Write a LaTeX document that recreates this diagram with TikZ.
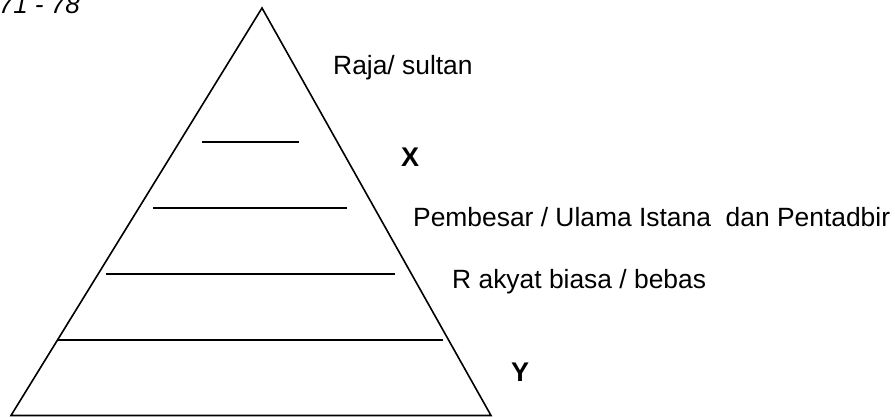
\documentclass[tikz,border=0pt]{standalone}
\usepackage{fontspec}
\setmainfont{Liberation Sans}
\begin{document}
\begin{tikzpicture}[x=1pt,y=1pt,
  edge/.style={line width=1.6pt,line join=miter},
  lbl/.style={anchor=base west,inner sep=0pt,font=\fontsize{26.4}{30}\selectfont},
  big/.style={anchor=base west,inner sep=0pt,font=\fontsize{27}{31}\selectfont\bfseries}]
\useasboundingbox (0,0) rectangle (895,417);
\clip (0,0) rectangle (895,417);
% triangle corners (y measured upward: 417 - pixel row)
\coordinate (apex) at (262,409);
\coordinate (bl) at (11,1.5);
\coordinate (br) at (491,1.5);
\draw[edge] (bl) -- (apex) -- (br) -- cycle;
% level lines
\coordinate (l1a) at (202,275); \coordinate (l1b) at (299,275);
\coordinate (l2a) at (153,209); \coordinate (l2b) at (347,209);
\coordinate (l3a) at (106,143); \coordinate (l3b) at (395,143);
\coordinate (l4a) at (58,77);   \coordinate (l4b) at (443,77);
\draw[edge] (l1a) -- (l1b);
\draw[edge] (l2a) -- (l2b);
\draw[edge] (l3a) -- (l3b);
\draw[edge] (l4a) -- (l4b);
% labels
\node[lbl] (raja) at (333,342) {Raja/ sultan};
\node[big] (x) at (401,250) {X};
\node[lbl] (pembesar) at (413,190) {Pembesar / Ulama Istana \ dan Pentadbir};
\node[lbl] (rakyat) at (452,128) {R akyat biasa / bebas};
\node[big] (y) at (511,35) {Y};
\node[lbl,anchor=base east,font=\fontsize{26}{30}\selectfont\itshape] (yr) at (80,403) {71 - 78};
\end{tikzpicture}
\end{document}
